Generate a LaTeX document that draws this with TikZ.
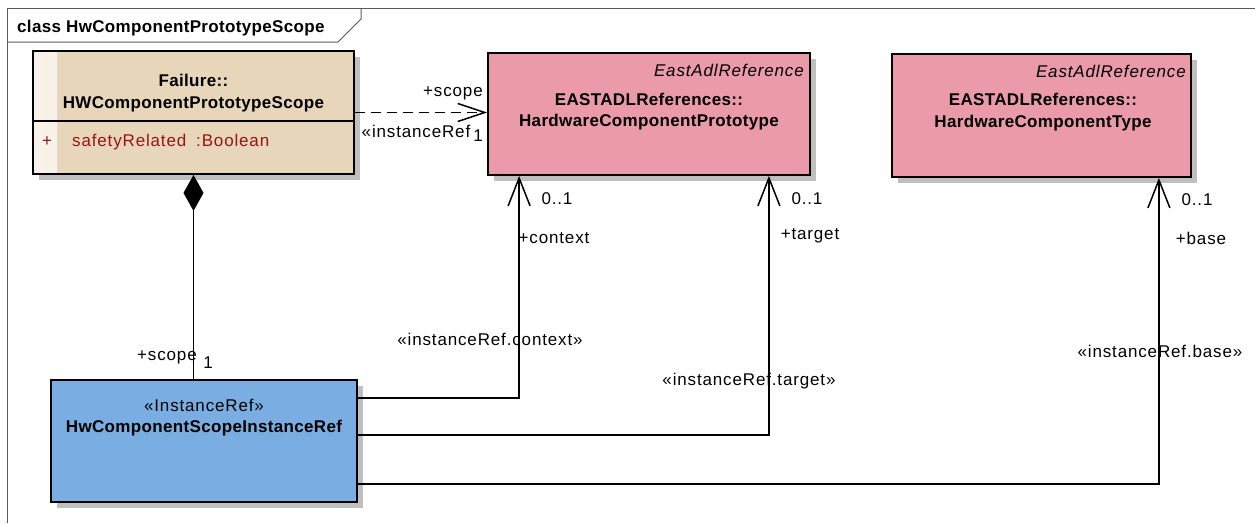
\documentclass[tikz,border=0pt]{standalone}
\usepackage{fontspec}
\setmainfont{Liberation Sans}[LetterSpace=5, BoldFeatures={LetterSpace=2}]
\usetikzlibrary{arrows.meta, shadows}
\definecolor{failfill}{RGB}{232,214,186}
\definecolor{reffill}{RGB}{234,154,168}
\definecolor{instfill}{RGB}{122,174,226}
\definecolor{attrred}{RGB}{150,20,20}
\definecolor{framegray}{RGB}{90,90,90}
\tikzset{
    >={Straight Barb[length=28pt,width=22pt]}, % open uml arrow heads
    umlbox/.style={draw, line width=1.8pt, inner sep=0pt,
        drop shadow={shadow xshift=6pt, shadow yshift=-6pt, fill=black!25, opacity=1}},
    failbox/.style={umlbox, fill=failfill, path picture={
        \shade[left color=white!70!failfill, right color=failfill]
            (path picture bounding box.north west) rectangle ([xshift=24pt]path picture bounding box.south west);}},
    refbox/.style={umlbox, fill=reffill},
    instbox/.style={umlbox, fill=instfill},
    boldtext/.style={font=\fontsize{17}{22}\selectfont\bfseries},
    reftag/.style={font=\fontsize{17}{22}\selectfont\itshape, anchor=base east},
    assoc/.style={->, line width=1.5pt},
    dep/.style={-{Straight Barb[length=27pt,width=18pt]}, line width=1.5pt, dash pattern=on 10pt off 6pt}
}

\begin{document}
\begin{tikzpicture}[x=1pt, y=-1pt, every node/.style={font=\fontsize{17}{22}\selectfont, inner sep=0pt}]
    \useasboundingbox (0,0) rectangle (1255,523);

    % frame and title tab
    \draw[framegray, line width=1pt] (7,523) -- (7,8) -- (1255,8);
    \draw[framegray, line width=1pt] (7,42) -- (338,42) -- (361,19) -- (361,8);
    \node[boldtext, anchor=base west] (title) at (17,32) {class HwComponentPrototypeScope};

    % classes
    \node[failbox, minimum width=321pt, minimum height=123pt] (fail) at (193.5,112.5) {};
    \node[refbox, minimum width=322pt, minimum height=122pt] (hcp) at (649,114) {};
    \node[refbox, minimum width=299pt, minimum height=123pt] (hct) at (1041.5,115.5) {};
    \node[instbox, minimum width=306pt, minimum height=122pt] (scoperef) at (204,441) {};

    \draw[line width=1.8pt] ([yshift=-71pt]fail.north west) -- ([yshift=-71pt]fail.north east);
    \node[boldtext, anchor=base] (failpkg) at (193.5,86) {Failure::};
    \node[boldtext, anchor=base] (failname) at (193.5,108) {HWComponentPrototypeScope};
    \node[anchor=base, text=attrred] (failvis) at (47,146) {+};
    \node[anchor=base west, text=attrred] (failattr) at (72,146) {safetyRelated};
    \node[anchor=base west, text=attrred] (failtype) at (196,146) {:Boolean};

    \node[reftag] (hcptag) at (804,76) {EastAdlReference};
    \node[boldtext, anchor=base] (hcppkg) at (649,105) {EASTADLReferences::};
    \node[boldtext, anchor=base] (hcpname) at (649,126) {HardwareComponentPrototype};

    \node[reftag] (hcttag) at (1186,77) {EastAdlReference};
    \node[boldtext, anchor=base] (hctpkg) at (1043,105) {EASTADLReferences::};
    \node[boldtext, anchor=base] (hctname) at (1043,127) {HardwareComponentType};

    \node[anchor=base] (scopest) at (204,411) {«InstanceRef»};
    \node[boldtext, anchor=base] (scopename) at (204,432) {HwComponentScopeInstanceRef};

    % connectors
    \draw[{Diamond[length=36pt,width=20pt]}-, line width=1.5pt] (fail.south) -- (fail.south |- scoperef.north);
    \draw[dep] (fail.east) -- (fail.east -| hcp.west);
    \draw[assoc] ([yshift=-19pt]scoperef.north east) -| ([xshift=32pt]hcp.south west);
    \draw[assoc] ([yshift=-56pt]scoperef.north east) -| ([xshift=-42pt]hcp.south east);
    \draw[assoc] ([yshift=19pt]scoperef.south east) -| ([xshift=-33pt]hct.south east);

    % connector labels
    \node (compscope) at (167,357) {+scope};
    \node (compmult) at (208,363) {1};
    \node (depscope) at (453,93) {+scope};
    \node (depname) at (416,131) {«instanceRef};
    \node (depmult) at (478,136) {1};
    \node (ctxmult) at (557,199) {0..1};
    \node (ctxrole) at (554,238) {+context};
    \node (ctxname) at (490,339) {«instanceRef.context»};
    \node (tgtmult) at (807,199) {0..1};
    \node (tgtrole) at (810,236) {+target};
    \node (tgtname) at (749,381) {«instanceRef.target»};
    \node (basemult) at (1197,200) {0..1};
    \node (baserole) at (1201,238) {+base};
    \node (basename) at (1160,351) {«instanceRef.base»};
\end{tikzpicture}
\end{document}
